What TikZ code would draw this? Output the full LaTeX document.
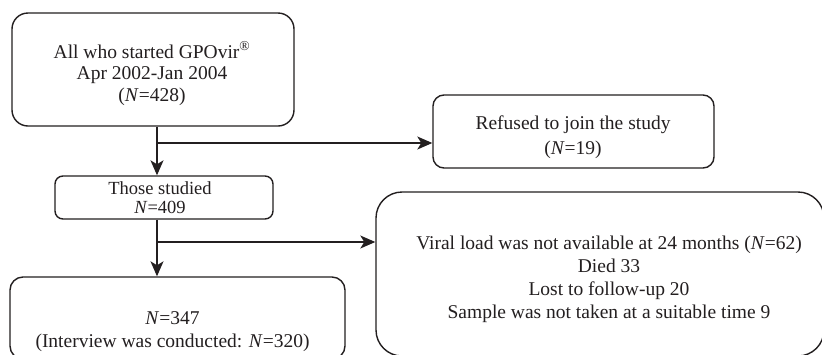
\documentclass[tikz,border=0pt]{standalone}
\usepackage{fontspec}
\setmainfont{Liberation Serif}
\usetikzlibrary{arrows.meta}
\definecolor{ink}{HTML}{231F20}
\tikzset{
  box/.style={draw=ink, line width=1.4pt, inner sep=0pt},
  txt/.style={text=ink, align=center, inner sep=0pt, font=\fontsize{19.5}{22}\selectfont},
  arr/.style={draw=ink, line width=1.3pt, -{Stealth[length=15pt,width=13pt,inset=4pt]}},
  link/.style={draw=ink, line width=1.3pt}
}
\begin{document}
\begin{tikzpicture}[x=1pt,y=-1pt]
\clip (0,0) rectangle (822,354);
\fill[white] (0,0) rectangle (822,354);

% boxes
\node[box, rounded corners=16pt, minimum width=282pt, minimum height=113pt] (start) at (153,69.5) {};
\node[box, rounded corners=11pt, minimum width=281pt, minimum height=73pt] (refused) at (573.5,131.5) {};
\node[box, rounded corners=8pt, minimum width=218pt, minimum height=43pt] (studied) at (164,197.5) {};
\node[box, rounded corners=13pt, minimum width=335pt, minimum height=82pt] (final) at (177.5,318) {};
\node[box, rounded corners=26pt, minimum width=448pt, minimum height=164pt] (excluded) at (600,274) {};

% texts
\node[txt, font=\fontsize{19.5}{21.5}\selectfont] (startText) at (152,73.5)
  {All who started GPOvir\textsuperscript{®}\\Apr 2002-Jan 2004\\(\textit{N}=428)};
\node[txt, font=\fontsize{19.5}{25}\selectfont] (refusedText) at (573,137.5)
  {Refused to join the study\\(\textit{N}=19)};
\node[txt, font=\fontsize{18.5}{18.5}\selectfont] (studiedText) at (160,197.5)
  {Those studied\\\textit{N}=409};
\node[txt, font=\fontsize{19.5}{23}\selectfont] (finalText) at (172.5,332)
  {\textit{N}=347\\(Interview was conducted: \textit{N}=320)};
\node[txt, font=\fontsize{19.5}{23}\selectfont] (excludedText) at (609,279)
  {Viral load was not available at 24 months (\textit{N}=62)\\Died 33\\Lost to follow-up 20\\Sample was not taken at a suitable time 9};

% connectors
\coordinate (j1) at (157,143);
\coordinate (j2) at (157,242);
\draw[arr] (start.south -| j1) -- (studied.north -| j1);
\draw[arr] (j1) -- (refused.west |- j1);
\draw[arr] (studied.south -| j2) -- (final.north -| j2);
\draw[arr] (j2) -- (excluded.west |- j2);
\end{tikzpicture}
\end{document}
